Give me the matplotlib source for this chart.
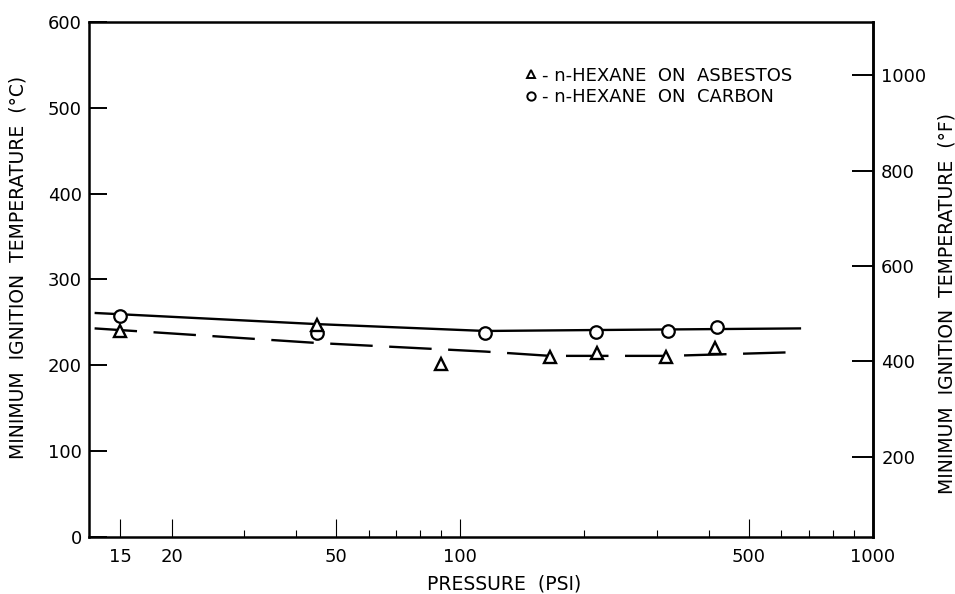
import matplotlib
matplotlib.use('Agg')
import matplotlib.pyplot as plt
from matplotlib.lines import Line2D
from matplotlib.ticker import FixedLocator, NullFormatter

# n-hexane on asbestos (triangles)
asbestos_psi = [15, 45, 90, 165, 215, 315, 415]
asbestos_temp = [240, 247, 202, 210, 214, 210, 220]
# n-hexane on carbon (circles)
carbon_psi = [15, 45, 115, 213, 318, 420]
carbon_temp = [258, 238, 238, 239, 240, 245]

# faired curves through each set of points
asbestos_fit_psi = [13, 45, 115, 165, 320, 615]
asbestos_fit_temp = [243, 226, 216, 211, 211, 215]
carbon_fit_psi = [13, 45, 115, 200, 670]
carbon_fit_temp = [261, 248, 240, 241, 243]

x_major = [15, 20, 50, 100, 500, 1000]
x_minor = [30, 40, 60, 70, 80, 90, 200, 300, 400, 600, 700, 800, 900]
y_ticks_c = [0, 100, 200, 300, 400, 500, 600]
y_ticks_f = [200, 400, 600, 800, 1000]

plt.rcParams['font.family'] = ['DejaVu Sans']

fig = plt.figure(figsize=(9.55, 5.94), dpi=100)
ax = fig.add_axes([0.0932, 0.096, 0.8208, 0.867])

ax.plot(carbon_fit_psi, carbon_fit_temp, color='black', lw=1.7,
        solid_capstyle='butt', zorder=2)
ax.plot(asbestos_fit_psi, asbestos_fit_temp, color='black', lw=1.7,
        linestyle=(0, (18, 7)), dash_capstyle='butt', zorder=2)

ax.plot(carbon_psi, carbon_temp, linestyle='none', marker='o', ms=9,
        mfc='white', mec='black', mew=1.6, zorder=3)
ax.plot(asbestos_psi, asbestos_temp, linestyle='none', marker='^', ms=8,
        mfc='white', mec='black', mew=1.7, zorder=3)

ax.set_xscale('log')
ax.set_xlim(12.6, 1000)
ax.set_ylim(0, 600)

ax.xaxis.set_major_locator(FixedLocator(x_major))
ax.xaxis.set_minor_locator(FixedLocator(x_minor))
ax.set_xticklabels([str(v) for v in x_major])
ax.xaxis.set_minor_formatter(NullFormatter())
ax.set_yticks(y_ticks_c)

ax.tick_params(axis='x', which='major', direction='in', length=13,
               width=0.8, labelsize=13, pad=8)
ax.tick_params(axis='x', which='minor', direction='in', length=5,
               width=0.8)
ax.tick_params(axis='y', direction='in', length=13, width=1.4,
               labelsize=13, pad=5)

for sp in ax.spines.values():
    sp.set_linewidth(1.8)


def c_to_f(c):
    return c * 9.0 / 5.0 + 32.0


def f_to_c(f):
    return (f - 32.0) * 5.0 / 9.0


sec = ax.secondary_yaxis('right', functions=(c_to_f, f_to_c))
sec.set_yticks(y_ticks_f)
sec.tick_params(direction='in', length=15, width=1.4, labelsize=13, pad=6)
sec.spines['right'].set_linewidth(1.8)
sec.set_ylabel('MINIMUM  IGNITION  TEMPERATURE  (°F)', fontsize=13.5)
sec.yaxis.set_label_coords(1.083, 0.454, transform=ax.transAxes)

ax.set_xlabel('PRESSURE  (PSI)', fontsize=13.5)
ax.xaxis.set_label_coords(0.529, -0.072)
ax.set_ylabel('MINIMUM  IGNITION  TEMPERATURE  (°C)', fontsize=13.5)
ax.yaxis.set_label_coords(-0.079, 0.524)

handles = [
    Line2D([], [], linestyle='none', marker='^', ms=6, mfc='white',
           mec='black', mew=1.4),
    Line2D([], [], linestyle='none', marker='o', ms=6, mfc='white',
           mec='black', mew=1.4),
]
ax.legend(handles, ['- n-HEXANE  ON  ASBESTOS', '- n-HEXANE  ON  CARBON'],
          loc='upper left', bbox_to_anchor=(0.549, 0.888),
          bbox_transform=fig.transFigure, frameon=False, fontsize=13,
          handlelength=0.7, handletextpad=0.3, labelspacing=0.2,
          borderpad=0, borderaxespad=0)

fig.savefig('out.png', dpi=100)
